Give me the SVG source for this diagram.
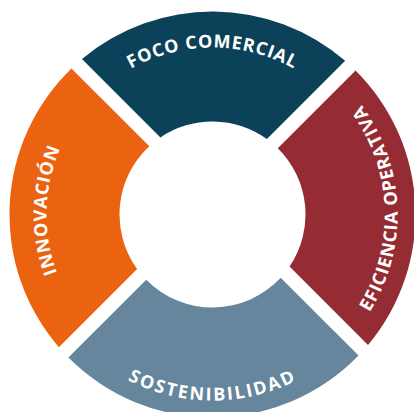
<svg xmlns="http://www.w3.org/2000/svg" width="414" height="412" viewBox="0 0 414 412">
  <style>
    .lbl { font-family: "Open Sans", "Liberation Sans", Arial, sans-serif; font-weight: 700; font-size: 18px; fill: #ffffff; }
  </style>
  <defs>
    <path id="pTop" d="M 45.5 214.5 A 167 167 0 0 1 379.5 214.5"/>
    <path id="pBottom" d="M 26.5 214.5 A 186 186 0 0 0 398.5 214.5"/>
    <path id="pLeft" d="M 212.5 380.5 A 166 166 0 0 1 212.5 48.5"/>
    <path id="pRight" d="M 212.5 399.5 A 185 185 0 0 0 212.5 29.5"/>
  </defs>
  <rect width="414" height="412" fill="#ffffff"/>
  <g id="foco-comercial">
    <path d="M 82.0 59.0 A 203 203 0 0 1 345.16 60.84 L 266.92 139.08 A 93 93 0 0 0 160.44 137.44 Z" fill="#0B4259"/>
    <text class="lbl" letter-spacing="0.8"><textPath href="#pTop" startOffset="50%" text-anchor="middle">FOCO COMERCIAL</textPath></text>
  </g>
  <g id="eficiencia-operativa">
    <path d="M 355.54 70.46 A 203 203 0 0 1 368.0 345.0 L 289.56 266.56 A 93 93 0 0 0 277.76 148.24 Z" fill="#952C33"/>
    <text class="lbl" letter-spacing="0.9"><textPath href="#pRight" startOffset="298" text-anchor="middle">EFICIENCIA OPERATIVA</textPath></text>
  </g>
  <g id="sostenibilidad">
    <path d="M 358.52 355.52 A 203 203 0 0 1 68.46 357.54 L 146.24 279.76 A 93 93 0 0 0 280.71 277.71 Z" fill="#66869E"/>
    <text class="lbl" letter-spacing="2"><textPath href="#pBottom" startOffset="50%" text-anchor="middle">SOSTENIBILIDAD</textPath></text>
  </g>
  <g id="innovacion">
    <path d="M 58.84 347.16 A 203 203 0 0 1 71.48 68.48 L 149.29 146.29 A 93 93 0 0 0 137.08 268.92 Z" fill="#EB6310"/>
    <text class="lbl" letter-spacing="0.8"><textPath href="#pLeft" startOffset="265" text-anchor="middle">INNOVACIÓN</textPath></text>
  </g>
  <g id="connectors"/>
</svg>
